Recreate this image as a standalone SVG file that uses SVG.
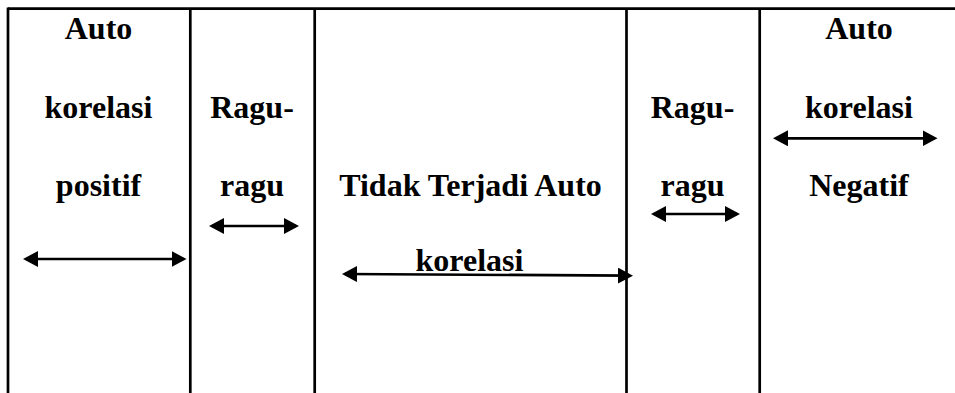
<svg xmlns="http://www.w3.org/2000/svg" width="955" height="393" viewBox="0 0 955 393">
<style>
.grid{stroke:#000;stroke-width:2.7;fill:none}
.lbl{font-family:"Liberation Serif","Times New Roman",serif;font-weight:700;font-size:32px;fill:#000;text-anchor:middle}
.arr{stroke:#000;stroke-width:2.7;fill:none;marker-start:url(#ah);marker-end:url(#ah)}
</style>
<defs>
<marker id="ah" viewBox="0 0 15 16" refX="12" refY="8" markerWidth="15" markerHeight="16" markerUnits="userSpaceOnUse" orient="auto-start-reverse">
<path d="M0,0 L15,8 L0,16 Z" fill="#000"/>
</marker>
</defs>
<rect width="955" height="393" fill="#fff"/>
<g id="table" class="grid">
<line x1="8" y1="8.7" x2="955" y2="8.7"/>
<line x1="8" y1="7.4" x2="8" y2="393"/>
<line x1="190.3" y1="8.7" x2="190.3" y2="393"/>
<line x1="314.7" y1="8.7" x2="314.7" y2="393"/>
<line x1="626.5" y1="8.7" x2="626.5" y2="393"/>
<line x1="759.7" y1="8.7" x2="759.7" y2="393"/>
</g>
<g id="node-positif">
<text class="lbl" x="98.5" y="39">Auto</text>
<text class="lbl" x="98.5" y="117.5">korelasi</text>
<text class="lbl" x="98.5" y="196">positif</text>
</g>
<g id="node-ragu-left">
<text class="lbl" x="252" y="117.5">Ragu-</text>
<text class="lbl" x="252" y="196">ragu</text>
</g>
<g id="node-tidak">
<text class="lbl" x="470.5" y="196">Tidak Terjadi Auto</text>
<text class="lbl" x="469.5" y="271">korelasi</text>
</g>
<g id="node-ragu-right">
<text class="lbl" x="692.5" y="117.5">Ragu-</text>
<text class="lbl" x="692.5" y="196">ragu</text>
</g>
<g id="node-negatif">
<text class="lbl" x="859" y="39">Auto</text>
<text class="lbl" x="859" y="117.5">korelasi</text>
<text class="lbl" x="859" y="196">Negatif</text>
</g>
<g id="connectors">
<line class="arr" x1="26" y1="259" x2="183.5" y2="259"/>
<line class="arr" x1="212" y1="226" x2="296" y2="226"/>
<line class="arr" x1="345" y1="274" x2="630" y2="275.7"/>
<line class="arr" x1="654" y1="214" x2="737" y2="214"/>
<line class="arr" x1="776" y1="138.3" x2="934.5" y2="138.3"/>
</g>
</svg>
